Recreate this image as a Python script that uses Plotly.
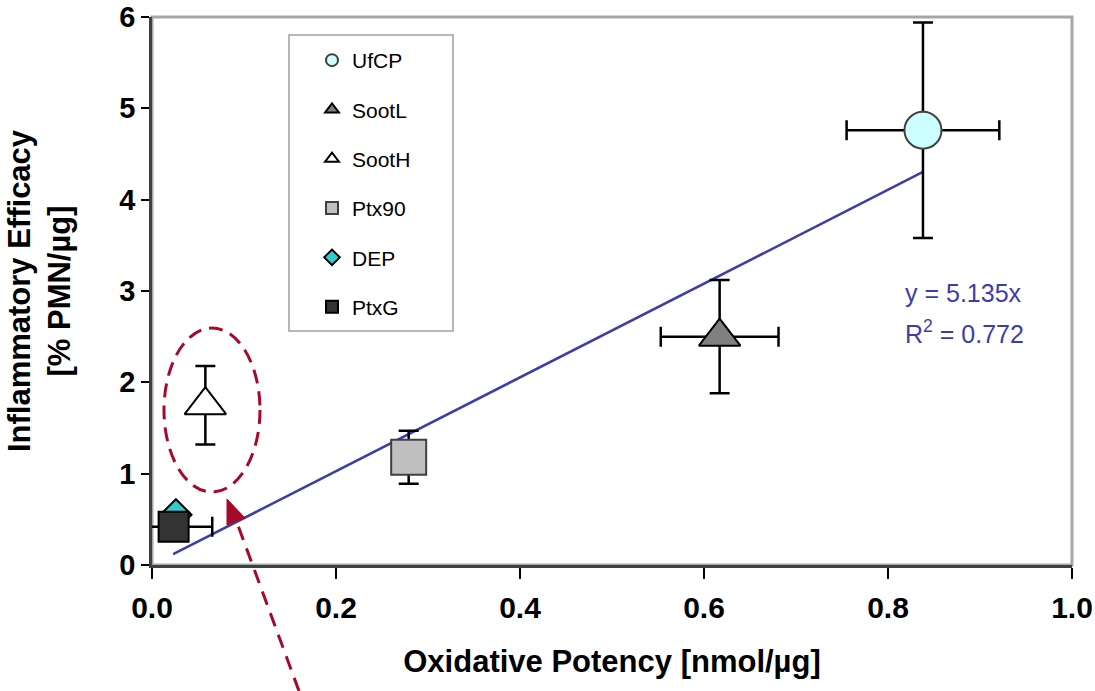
import plotly.graph_objects as go

# ---------------- data ----------------
names = ["UfCP", "SootL", "SootH", "Ptx90", "DEP", "PtxG"]
ox_potency = [0.838, 0.617, 0.058, 0.279, 0.026, 0.0235]
ox_err = [0.083, 0.064, 0.0, 0.0, 0.0, 0.042]
infl_eff = [4.76, 2.50, 1.75, 1.18, 0.55, 0.42]
infl_err = [1.18, 0.62, 0.43, 0.29, 0.0, 0.0]
symbols = ["circle", "triangle-up", "triangle-up", "square", "diamond", "square"]
fills = ["#ccffff", "#808080", "#ffffff", "#c0c0c0", "#33cccc", "#333333"]
outlines = ["#404040", "#000000", "#000000", "#404040", "#000000", "#000000"]
msizes = [37, 36, 36, 35, 24, 30]

fit_slope = 5.135
fit_r2 = 0.772
fit_x = [0.023, 0.838]

x_ticks = [0.0, 0.2, 0.4, 0.6, 0.8, 1.0]
y_ticks = [0, 1, 2, 3, 4, 5, 6]

# ---------------- layout geometry ----------------
W, H = 1095, 691
L, R, T, B = 152, 1072, 17, 565
FONT = "Liberation Sans, Arial, sans-serif"
RED = "#a50a2a"
BLUE = "#3d3da8"


def px(xp):
    return (xp - L) / (R - L)


def py(yp):
    return (B - yp) / (B - T)


fig = go.Figure()

# regression line
fig.add_trace(go.Scatter(
    x=fit_x, y=[fit_slope * v for v in fit_x], mode="lines",
    line=dict(color=BLUE, width=2.5), showlegend=False, hoverinfo="skip"))

for i, n in enumerate(names):
    ex = dict(type="data", array=[ox_err[i]], visible=ox_err[i] > 0,
              color="#000000", thickness=2.5, width=10)
    ey = dict(type="data", array=[infl_err[i]], visible=infl_err[i] > 0,
              color="#000000", thickness=2.5, width=10)
    fig.add_trace(go.Scatter(
        x=[ox_potency[i]], y=[infl_eff[i]], mode="markers", name=n,
        legendgroup=n, error_x=ex, error_y=ey, cliponaxis=False,
        marker=dict(symbol=symbols[i], size=msizes[i], color=fills[i],
                    line=dict(color=outlines[i], width=2))))

shapes = [
    # plot frame (top/right grey)
    dict(type="rect", xref="paper", yref="paper", x0=0, x1=1, y0=0, y1=1,
         line=dict(color="#a6a6a6", width=3), layer="below"),
    # legend box
    dict(type="rect", xref="paper", yref="paper", x0=px(289), x1=px(453),
         y0=py(331), y1=py(35), line=dict(color="#a0a0a0", width=1.5),
         fillcolor="white", layer="below"),
    # dashed ellipse around SootH
    dict(type="circle", xref="paper", yref="paper", x0=px(164), x1=px(260),
         y0=py(492), y1=py(328), line=dict(color=RED, width=3, dash="14px,8px")),
    # dashed arrow shaft
    dict(type="line", xref="paper", yref="paper", x0=px(299), y0=py(691),
         x1=px(236), y1=py(520), line=dict(color=RED, width=3, dash="14px,9px")),
]
# arrow head (filled triangle), path in paper coords
tip = (227, 499)
b1 = (227, 525)
b2 = (245, 518)
path = "M {} {} L {} {} L {} {} Z".format(px(tip[0]), py(tip[1]), px(b1[0]), py(b1[1]),
                                        px(b2[0]), py(b2[1]))
shapes.append(dict(type="path", xref="paper", yref="paper", path=path,
                   fillcolor=RED, line=dict(color=RED, width=1)))

annotations = [
    dict(xref="paper", yref="paper", x=px(903), y=py(293), xanchor="left",
         yanchor="middle", showarrow=False, text="y = 5.135x",
         font=dict(family=FONT, size=25, color=BLUE)),
    dict(xref="paper", yref="paper", x=px(903), y=py(332), xanchor="left",
         yanchor="middle", showarrow=False,
         text="R<sup>2</sup> = {:.3f}".format(fit_r2),
         font=dict(family=FONT, size=25, color=BLUE)),
]

fig.update_layout(
    width=W, height=H,
    margin=dict(l=L, r=W - R, t=T, b=H - B, pad=0, autoexpand=False),
    paper_bgcolor="white", plot_bgcolor="white",
    font=dict(family=FONT, color="#000000"),
    shapes=shapes, annotations=annotations,
    showlegend=True,
    legend=dict(x=px(312), y=py(40), xanchor="left", yanchor="top",
                bgcolor="rgba(0,0,0,0)", borderwidth=0,
                font=dict(family=FONT, size=21, color="#000000"),
                itemsizing="constant", tracegroupgap=19, traceorder="grouped"),
    xaxis=dict(range=[0, 1], tickvals=x_ticks, ticktext=["{:.1f}".format(v) for v in x_ticks],
               automargin=False,
               showgrid=False, zeroline=False, showline=True, linecolor="#404040",
               linewidth=2.5, ticks="outside", ticklen=11, tickwidth=1.5,
               tickcolor="#000000", ticklabelstandoff=3,
               tickfont=dict(family=FONT, size=30, weight="bold"),
               title=dict(text="Oxidative Potency [nmol/µg]", standoff=28,
                          font=dict(family=FONT, size=31, weight="bold"))),
    yaxis=dict(range=[0, 6], tickvals=y_ticks, showgrid=False, zeroline=False,
               automargin=False,
               showline=True, linecolor="#404040", linewidth=2.5,
               ticks="outside", ticklen=8, tickwidth=1.5, tickcolor="#000000",
               tickfont=dict(family=FONT, size=29, weight="bold"),
               title=dict(text="Inflammatory Efficacy<br>[% PMN/µg]", standoff=40,
                          font=dict(family=FONT, size=31, weight="bold"))),
)

fig.write_html("out.html")
